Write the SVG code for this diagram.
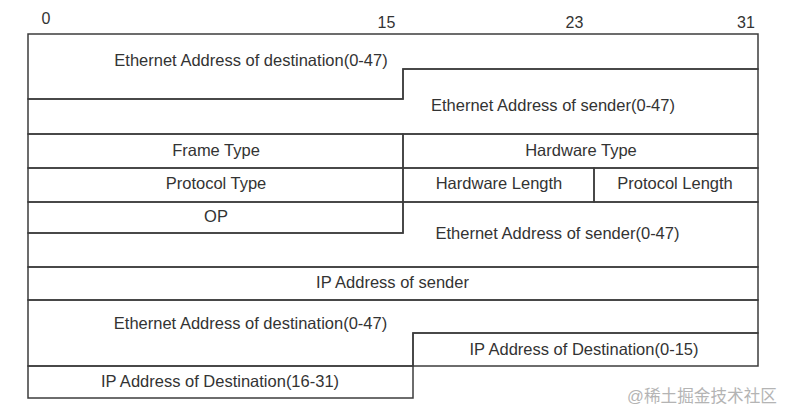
<svg xmlns="http://www.w3.org/2000/svg" width="789" height="414" viewBox="0 0 789 414">
<style>
.f{fill:none;stroke:#3c3c3c;stroke-width:1.5;stroke-linejoin:miter}
.t{font-family:"Liberation Sans",Arial,sans-serif;font-size:16.5px;fill:#333;text-anchor:middle}
.n{font-family:"Liberation Sans",Arial,sans-serif;font-size:16px;fill:#333;text-anchor:middle}
.w{font-family:"Liberation Sans","Noto Sans CJK SC",sans-serif;font-size:17px;fill:#b4b4b4}
</style>
<rect width="789" height="414" fill="#fff"/>
<g id="bit-labels">
<text class="n" x="46" y="24">0</text>
<text class="n" x="386.5" y="28">15</text>
<text class="n" x="574.5" y="28">23</text>
<text class="n" x="746" y="28">31</text>
</g>
<g id="eth-dst-1">
<path class="f" d="M28,34H758V69H403V99H28Z"/>
<text class="t" x="251" y="66">Ethernet Address of destination(0-47)</text>
</g>
<g id="eth-src-1">
<path class="f" d="M403,69H758V134H28V99H403Z"/>
<text class="t" x="553" y="111">Ethernet Address of sender(0-47)</text>
</g>
<g id="frame-type">
<rect class="f" x="28" y="134" width="375" height="34"/>
<text class="t" x="216" y="156">Frame Type</text>
</g>
<g id="hardware-type">
<rect class="f" x="403" y="134" width="355" height="34"/>
<text class="t" x="581" y="156">Hardware Type</text>
</g>
<g id="protocol-type">
<rect class="f" x="28" y="168" width="375" height="34"/>
<text class="t" x="216" y="189">Protocol Type</text>
</g>
<g id="hardware-length">
<rect class="f" x="403" y="168" width="191" height="34"/>
<text class="t" x="499" y="189">Hardware Length</text>
</g>
<g id="protocol-length">
<rect class="f" x="594" y="168" width="164" height="34"/>
<text class="t" x="675" y="189">Protocol Length</text>
</g>
<g id="op">
<rect class="f" x="28" y="202" width="375" height="31"/>
<text class="t" x="216" y="222">OP</text>
</g>
<g id="eth-src-2">
<path class="f" d="M403,202H758V267H28V233H403Z"/>
<text class="t" x="557.5" y="239">Ethernet Address of sender(0-47)</text>
</g>
<g id="ip-src">
<rect class="f" x="28" y="267" width="730" height="33"/>
<text class="t" x="392.5" y="288">IP Address of sender</text>
</g>
<g id="eth-dst-2">
<path class="f" d="M28,300H758V333H413V366H28Z"/>
<text class="t" x="250.5" y="329">Ethernet Address of destination(0-47)</text>
</g>
<g id="ip-dst-lo">
<rect class="f" x="413" y="333" width="345" height="33"/>
<text class="t" x="584" y="355">IP Address of Destination(0-15)</text>
</g>
<g id="ip-dst-hi">
<rect class="f" x="28" y="366" width="385" height="32"/>
<text class="t" x="220" y="387">IP Address of Destination(16-31)</text>
</g>
<g id="connectors"/>
<text class="w" x="627" y="402" textLength="150" lengthAdjust="spacingAndGlyphs">@稀土掘金技术社区</text>
</svg>
